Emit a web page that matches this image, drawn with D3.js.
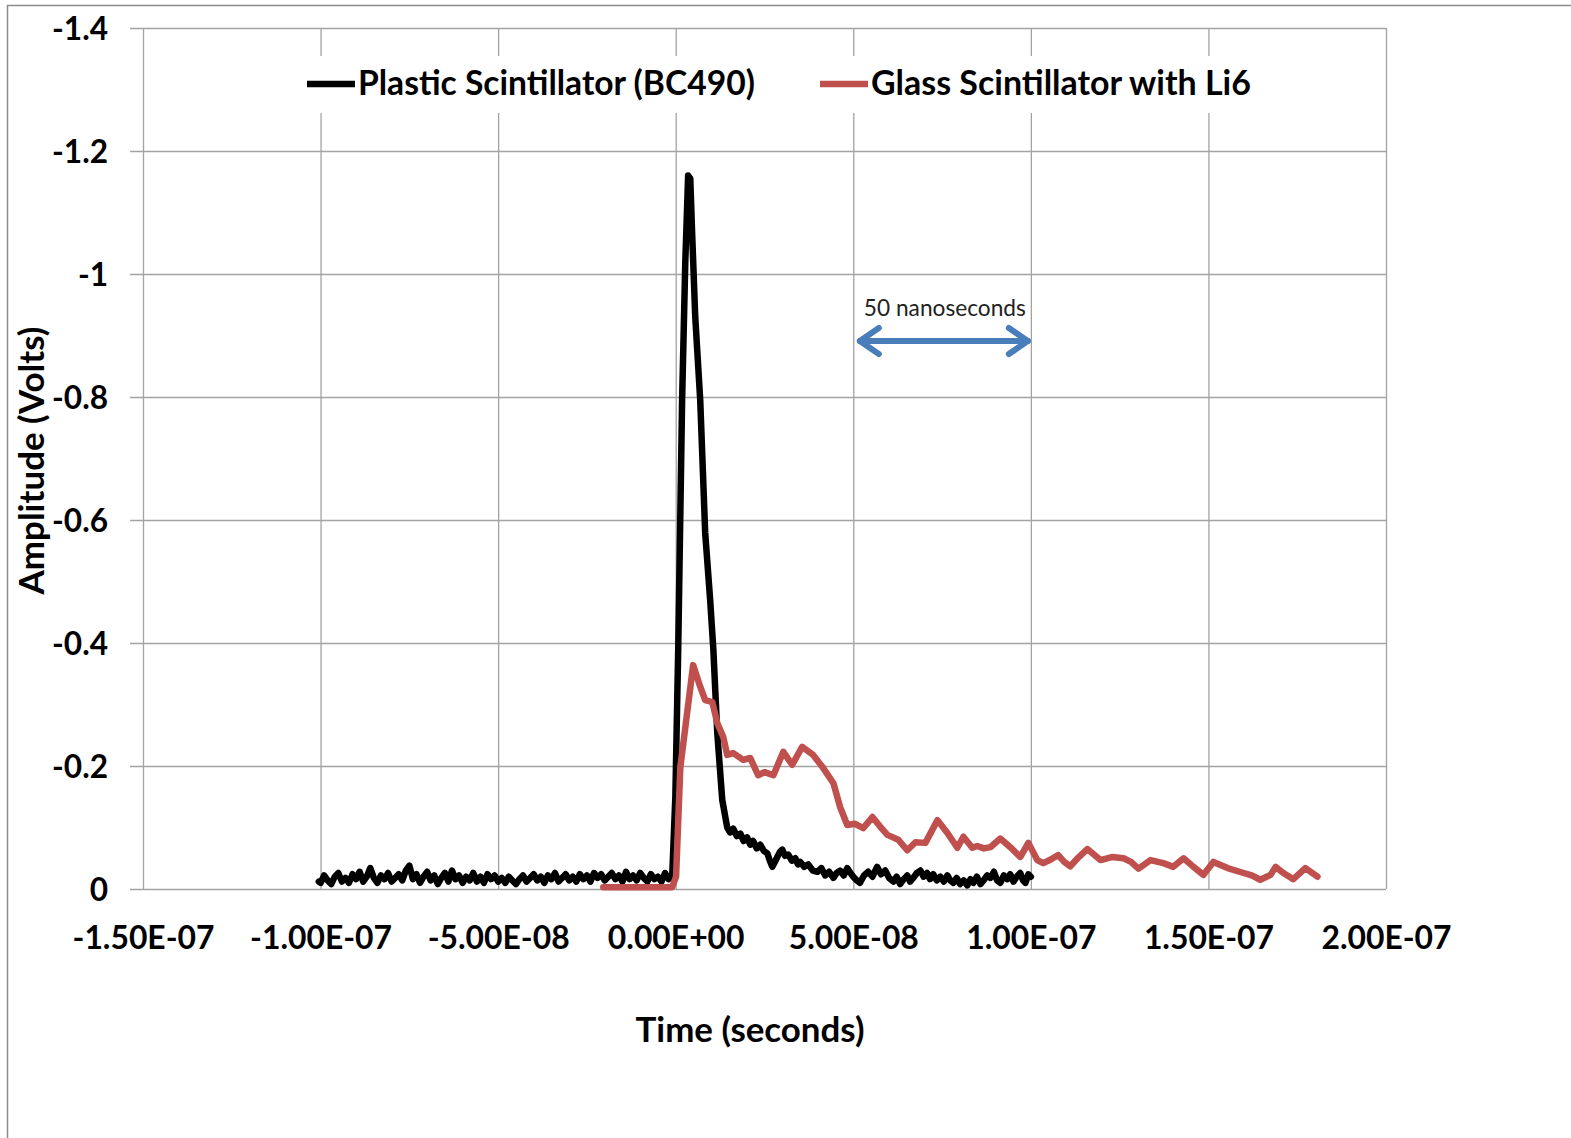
<!DOCTYPE html>
<html>
<head>
<meta charset="utf-8">
<script src="https://cdn.jsdelivr.net/npm/d3@7"></script>
<style>
  html, body { margin: 0; padding: 0; background: #fff; }
  svg { display: block; }
</style>
</head>
<body>
<svg id="chart" width="1571" height="1138"></svg>
<script>
// ---------------- DATA ----------------
const xTickValues = [-1.5e-7, -1.0e-7, -5.0e-8, 0, 5.0e-8, 1.0e-7, 1.5e-7, 2.0e-7];
const xTickLabels = ["-1.50E-07", "-1.00E-07", "-5.00E-08", "0.00E+00", "5.00E-08", "1.00E-07", "1.50E-07", "2.00E-07"];
const yTickValues = [0, -0.2, -0.4, -0.6, -0.8, -1.0, -1.2, -1.4];
const yTickLabels = ["0", "-0.2", "-0.4", "-0.6", "-0.8", "-1", "-1.2", "-1.4"];

const seriesNames = ["Plastic Scintillator (BC490)", "Glass Scintillator with Li6"];
const xAxisTitle = "Time (seconds)";
const yAxisTitle = "Amplitude (Volts)";
const annotationText = "50 nanoseconds";
const annotationSpanNs = [51, 100];

// Plastic scintillator (black) — time in ns, amplitude in volts
const plasticTimeNs = [
  -100.5, -100, -99, -98, -97, -96, -95, -94, -93, -92, -91, -90, -89, -88, -87, -86, -85, -84, -83, -82, -81,
  -80, -79, -78, -77, -76, -75, -74, -73, -72, -71, -70, -69, -68, -67, -66, -65, -64, -63, -62, -61,
  -60, -59, -58, -57, -56, -55, -54, -53, -52, -51, -50, -49, -48, -47, -46, -45, -44, -43, -42, -41,
  -40, -39, -38, -37, -36, -35, -34, -33, -32, -31, -30, -29, -28, -27, -26, -25, -24, -23, -22, -21,
  -20, -19, -18, -17, -16, -15, -14, -13, -12, -11, -10, -9, -8, -7, -6, -5, -4, -3, -2, -1,
  -0.1, 0.7, 1.8, 2.7, 3.5, 4.1, 4.6, 5.5, 6.9, 8.3, 9.7, 10.6, 11.7, 13.1,
  14.5, 15.3, 16.2, 17.2, 18.2, 19.1, 20.1, 21.0, 21.8, 22.8, 23.8, 24.8, 25.8, 26.5, 27.2, 27.9, 28.6, 29.3,
  30.0, 30.8, 31.7, 32.7, 33.7, 34.4, 35.1, 36.2, 37.3, 38.6, 39.9, 41.0, 42.1, 43.2, 44.4, 45.3, 46.3, 47.3,
  48.3, 49.2, 50.0, 51.0, 51.9, 53.0, 54.2, 55.4, 56.7, 57.8, 59.0, 60.1, 61.3, 62.2, 63.2, 64.2, 65.2, 66.0,
  66.9, 67.9, 68.9, 69.8, 70.8, 71.6, 72.5, 73.5, 74.5, 75.5, 76.5, 77.3, 78.2, 79.1, 80.1, 81.1, 82.1, 83.0,
  83.8, 84.8, 85.8, 86.7, 87.7, 88.6, 89.6, 90.5, 91.4, 92.4, 93.4, 94.2, 95.1, 96.0, 97.0, 97.8, 98.5, 99.3, 100.0
];
const plasticVolts = [
  -0.012, -0.010, -0.022, -0.014, -0.008, -0.020, -0.026, -0.012, -0.018, -0.010, -0.024, -0.016, -0.028, -0.012, -0.020, -0.034, -0.018, -0.010, -0.022, -0.016, -0.026,
  -0.012, -0.018, -0.024, -0.014, -0.030, -0.038, -0.016, -0.024, -0.010, -0.020, -0.028, -0.014, -0.022, -0.008, -0.018, -0.026, -0.012, -0.030, -0.016, -0.022,
  -0.010, -0.020, -0.014, -0.026, -0.012, -0.020, -0.010, -0.024, -0.016, -0.022, -0.012, -0.018, -0.010, -0.020, -0.014, -0.008, -0.016, -0.022, -0.012, -0.018,
  -0.024, -0.014, -0.020, -0.010, -0.022, -0.016, -0.026, -0.012, -0.018, -0.024, -0.014, -0.020, -0.012, -0.024, -0.016, -0.022, -0.012, -0.026, -0.018, -0.024,
  -0.014, -0.020, -0.026, -0.016, -0.022, -0.012, -0.028, -0.016, -0.022, -0.014, -0.026, -0.018, -0.012, -0.024, -0.016, -0.020, -0.012, -0.026, -0.016, -0.020,
  -0.150, -0.389, -0.795, -1.020, -1.160, -1.155, -1.070, -0.930, -0.795, -0.579, -0.470, -0.389, -0.254, -0.145,
  -0.100, -0.092, -0.098, -0.086, -0.090, -0.078, -0.084, -0.072, -0.078, -0.066, -0.072, -0.062, -0.058, -0.046, -0.036, -0.044, -0.052, -0.060,
  -0.064, -0.054, -0.056, -0.046, -0.050, -0.040, -0.044, -0.036, -0.040, -0.030, -0.028, -0.034, -0.022, -0.028, -0.018, -0.026, -0.030, -0.022,
  -0.034, -0.026, -0.020, -0.014, -0.010, -0.022, -0.028, -0.020, -0.036, -0.024, -0.030, -0.018, -0.012, -0.020, -0.008, -0.016, -0.022, -0.012,
  -0.018, -0.026, -0.030, -0.020, -0.026, -0.016, -0.024, -0.014, -0.020, -0.012, -0.022, -0.014, -0.010, -0.018, -0.008, -0.014, -0.006, -0.016,
  -0.010, -0.020, -0.008, -0.014, -0.022, -0.018, -0.028, -0.014, -0.010, -0.022, -0.016, -0.024, -0.012, -0.020, -0.026, -0.014, -0.010, -0.024, -0.020
];

// Glass scintillator with Li6 (red)
const glassTimeNs = [
  -20.4, -1.0, 0.1, 1.3, 4.9, 6.9, 8.3, 10.3, 11.7, 13.4, 14.5, 16.2, 19.0, 21.0, 23.2, 25.0, 27.5, 30.3, 32.8, 35.6, 38.7,
  41.5, 44.4, 46.3, 48.3, 50.5, 52.8, 55.4, 57.5, 59.6, 62.7, 65.2, 67.5, 70.3, 73.7, 76.5, 79.3, 81.0, 83.5, 84.9, 86.8, 88.6, 91.4, 94.2,
  97.0, 99.3, 101.8, 103.5, 105.6, 107.7, 109.4, 111.1, 113.5, 115.9, 119.6, 122.8, 126.1, 128.2, 130.3, 133.7, 137.3, 140.1, 143.0, 145.8, 148.6, 151.4, 155.4, 159.9, 162.2, 164.6, 167.5,
  168.9, 171.1, 173.9, 177.3, 180.7
];
const glassVolts = [
  -0.003, -0.003, -0.020, -0.198, -0.364, -0.329, -0.307, -0.304, -0.270, -0.247, -0.218, -0.221, -0.210, -0.213, -0.185, -0.190, -0.185, -0.223, -0.202, -0.231, -0.218,
  -0.197, -0.172, -0.133, -0.104, -0.106, -0.099, -0.117, -0.102, -0.088, -0.080, -0.063, -0.076, -0.075, -0.112, -0.091, -0.067, -0.085, -0.067, -0.070, -0.066, -0.068, -0.082, -0.068,
  -0.052, -0.075, -0.047, -0.042, -0.048, -0.055, -0.044, -0.037, -0.052, -0.065, -0.047, -0.052, -0.050, -0.044, -0.033, -0.047, -0.042, -0.036, -0.050, -0.036, -0.023, -0.044, -0.034, -0.026, -0.022, -0.015, -0.023,
  -0.036, -0.026, -0.016, -0.034, -0.020
];

// ---------------- DRAWING ----------------
const svg = d3.select("#chart");
const W = 1571, H = 1138;
const plot = { left: 143, right: 1386, top: 28, bottom: 889 };
const FONT = "Lato, 'Open Sans', sans-serif";
const gridColor = "#a3a3a3";
const colors = ["#000000", "#c0504d"];

// scale a text's font size so its rendered width matches a target width
function fitWidth(sel, target) {
  sel.each(function () {
    const fs = parseFloat(d3.select(this).attr("font-size"));
    const w = this.getComputedTextLength();
    if (w > 0) d3.select(this).attr("font-size", (fs * target / w).toFixed(2));
  });
}

const x = d3.scaleLinear().domain([xTickValues[0], xTickValues[xTickValues.length - 1]]).range([plot.left, plot.right]);
const y = d3.scaleLinear().domain([yTickValues[0], yTickValues[yTickValues.length - 1]]).range([plot.bottom, plot.top]);

// outer chart frame
svg.append("rect").attr("x", 0).attr("y", 0).attr("width", W).attr("height", H).attr("fill", "#fff");
svg.append("rect").attr("x", 7.5).attr("y", 5.5).attr("width", W + 20).attr("height", H + 20)
  .attr("fill", "none").attr("stroke", "#8c8c8c").attr("stroke-width", 1.5);

// Y axis with gridlines
const yAxis = d3.axisLeft(y)
  .tickValues(yTickValues)
  .tickFormat((d, i) => yTickLabels[i])
  .tickSize(-(plot.right - plot.left))
  .tickPadding(0);
const gy = svg.append("g").attr("transform", `translate(${plot.left},0)`).call(yAxis);
gy.select(".domain").remove();
gy.selectAll(".tick line").attr("stroke", gridColor).attr("stroke-width", 1.3).attr("x2", plot.right - plot.left).attr("x1", -13);
const yLabels = gy.selectAll(".tick text")
  .attr("x", -35).attr("dy", "0.36em")
  .attr("font-family", FONT).attr("font-weight", "bold").attr("font-size", 29).attr("fill", "#000");
const ySample = yLabels.filter((d, i, n) => n[i].textContent === "-1.4");
fitWidth(ySample, 56);
yLabels.attr("font-size", ySample.attr("font-size"));

// X axis with gridlines
const xAxis = d3.axisBottom(x)
  .tickValues(xTickValues)
  .tickFormat((d, i) => xTickLabels[i])
  .tickSize(-(plot.bottom - plot.top))
  .tickPadding(0);
const gx = svg.append("g").attr("transform", `translate(0,${plot.bottom})`).call(xAxis);
gx.select(".domain").remove();
gx.selectAll(".tick line").attr("stroke", gridColor).attr("stroke-width", 1.3);
const xLabels = gx.selectAll(".tick text")
  .attr("y", 60).attr("dy", 0)
  .attr("font-family", FONT).attr("font-weight", "bold").attr("font-size", 28).attr("fill", "#000");
const xSample = xLabels.filter((d, i) => i === 0);
fitWidth(xSample, 142);
xLabels.attr("font-size", xSample.attr("font-size"));

// Axis titles
const xt = svg.append("text").attr("x", 750).attr("y", 1042).attr("text-anchor", "middle")
  .attr("font-family", FONT).attr("font-weight", "bold").attr("font-size", 30).text(xAxisTitle);
fitWidth(xt, 229);
const yt = svg.append("text").attr("transform", `translate(44,${(plot.top + plot.bottom) / 2 + 2}) rotate(-90)`)
  .attr("text-anchor", "middle")
  .attr("font-family", FONT).attr("font-weight", "bold").attr("font-size", 30).text(yAxisTitle);
fitWidth(yt, 268);

// Series
const line = d3.line().x(d => x(d.t * 1e-9)).y(d => y(d.v));
const plasticData = plasticTimeNs.map((t, i) => ({ t, v: plasticVolts[i] }));
const glassData = glassTimeNs.map((t, i) => ({ t, v: glassVolts[i] }));

svg.append("path").datum(plasticData).attr("d", line)
  .attr("fill", "none").attr("stroke", colors[0]).attr("stroke-width", 6.5)
  .attr("stroke-linejoin", "round").attr("stroke-linecap", "round");
svg.append("path").datum(glassData).attr("d", line)
  .attr("fill", "none").attr("stroke", colors[1]).attr("stroke-width", 6.5)
  .attr("stroke-linejoin", "round").attr("stroke-linecap", "round");

// Legend
const legend = svg.append("g");
legend.append("rect").attr("x", 298).attr("y", 56).attr("width", 968).attr("height", 57).attr("fill", "#fff");
const legendItems = [
  { name: seriesNames[0], color: colors[0], x0: 307, w: 397 },
  { name: seriesNames[1], color: colors[1], x0: 820, w: 380 }
];
legendItems.forEach(it => {
  legend.append("line").attr("x1", it.x0).attr("x2", it.x0 + 48).attr("y1", 84).attr("y2", 84)
    .attr("stroke", it.color).attr("stroke-width", 6.5);
  const t = legend.append("text").attr("x", it.x0 + 51).attr("y", 95)
    .attr("font-family", FONT).attr("font-weight", "bold").attr("font-size", 29).text(it.name);
  fitWidth(t, it.w);
});

// Annotation
const arrowColor = "#4a7ebb";
const ay = 341;
const ax1 = x(annotationSpanNs[0] * 1e-9), ax2 = x(annotationSpanNs[1] * 1e-9);
const at = svg.append("text").attr("x", (ax1 + ax2) / 2 + 1).attr("y", 316).attr("text-anchor", "middle")
  .attr("font-family", FONT).attr("font-size", 20).attr("fill", "#222").text(annotationText);
fitWidth(at, 162);
const ann = svg.append("g").attr("stroke", arrowColor).attr("stroke-width", 6).attr("fill", "none")
  .attr("stroke-linecap", "round").attr("stroke-linejoin", "round");
ann.append("line").attr("x1", ax1 + 3).attr("x2", ax2 - 3).attr("y1", ay).attr("y2", ay);
ann.append("path").attr("d", `M${ax1 + 22},${ay - 13} L${ax1 + 3},${ay} L${ax1 + 22},${ay + 13}`);
ann.append("path").attr("d", `M${ax2 - 22},${ay - 13} L${ax2 - 3},${ay} L${ax2 - 22},${ay + 13}`);
</script>
</body>
</html>
